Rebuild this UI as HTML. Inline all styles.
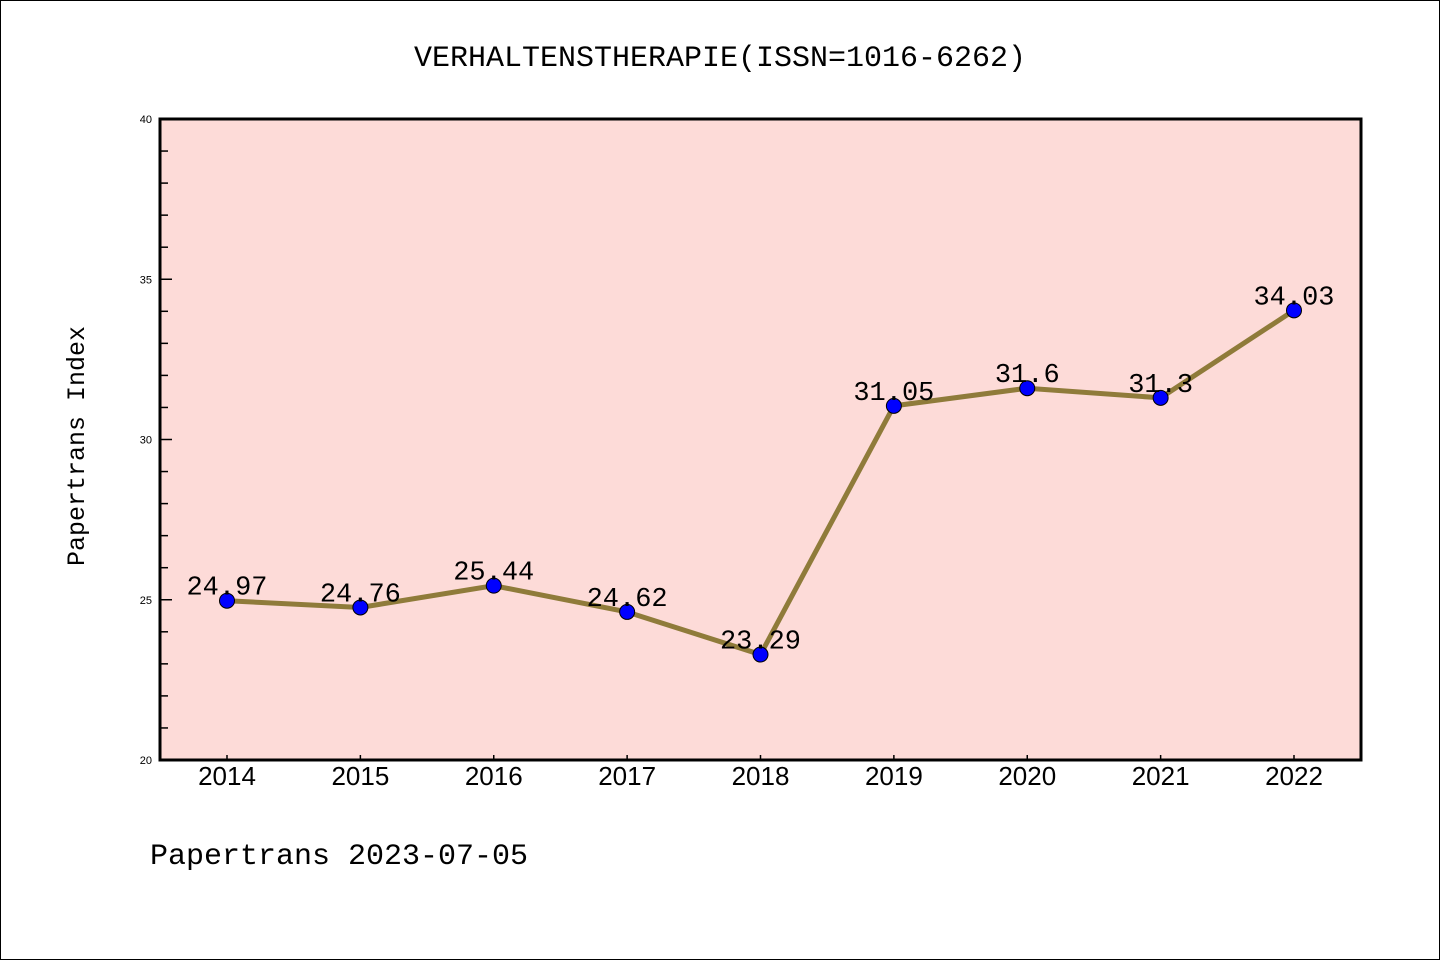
<!DOCTYPE html>
<html><head><meta charset="utf-8"><style>
body{margin:0;background:#fff;}
svg{display:block;font-family:"Liberation Mono","DejaVu Sans Mono",monospace;}
</style></head><body>
<svg id="chart" width="1440" height="960">
<rect x="0.5" y="0.5" width="1439" height="959" fill="#fff" stroke="#000"/>
<text x="720" y="66" font-size="30" text-anchor="middle">VERHALTENSTHERAPIE(ISSN=1016-6262)</text>
<rect x="160" y="119" width="1201" height="641" fill="#fddbd8"/>
<g id="ticks"></g>
<g id="series"></g>
<rect x="160" y="119" width="1201" height="641" fill="none" stroke="#000" stroke-width="3"/>
<text transform="translate(84,446) rotate(-90)" font-size="25" text-anchor="middle">Papertrans Index</text>
<text x="150" y="864" font-size="30">Papertrans 2023-07-05</text>
</svg>
<script>
const years=["2014","2015","2016","2017","2018","2019","2020","2021","2022"];
const values=[24.97,24.76,25.44,24.62,23.29,31.05,31.6,31.3,34.03];
const labels=["24.97","24.76","25.44","24.62","23.29","31.05","31.6","31.3","34.03"];
const yTicks=[20,25,30,35,40];
const NS="http://www.w3.org/2000/svg";
const x=i=>227+i*(1294-227)/8;
const y=v=>760-(v-20)*(641/20);
function mk(t,a,p){const e=document.createElementNS(NS,t);for(const k in a)e.setAttribute(k,a[k]);p.appendChild(e);return e;}
const tg=document.getElementById('ticks'),sg=document.getElementById('series');
for(let v=20;v<=40;v++){const major=v%5===0;
 const l=mk('line',{x1:160,x2:major?172:168,y1:y(v),y2:y(v),stroke:'#000','stroke-width':1.5},tg);
 
 }
yTicks.forEach(v=>{const t=mk('text',{x:152,y:y(v)+4,'font-size':11,'text-anchor':'end','font-family':'Liberation Sans, sans-serif'},tg);t.textContent=v;
 
 });
years.forEach((yr,i)=>{const l=mk('line',{x1:x(i),x2:x(i),y1:760,y2:755,stroke:'#000','stroke-width':1.5},tg);
 
 
 const t=mk('text',{x:x(i),y:785,'font-size':26,'text-anchor':'middle','font-family':'Liberation Sans, sans-serif'},tg);t.textContent=yr;
 
 });
const pl=mk('polyline',{points:values.map((v,i)=>x(i)+','+y(v)).join(' '),fill:'none',stroke:'#8f7b3a','stroke-width':5},sg);


values.forEach((v,i)=>{const c=mk('circle',{cx:x(i),cy:y(v),r:7.5,fill:'#0000ff',stroke:'#000','stroke-width':1},sg);
 
 
 const t=mk('text',{x:x(i),y:y(v)-6,'font-size':27,'text-anchor':'middle'},sg);t.textContent=labels[i];
 
 });
</script>
</body></html>
